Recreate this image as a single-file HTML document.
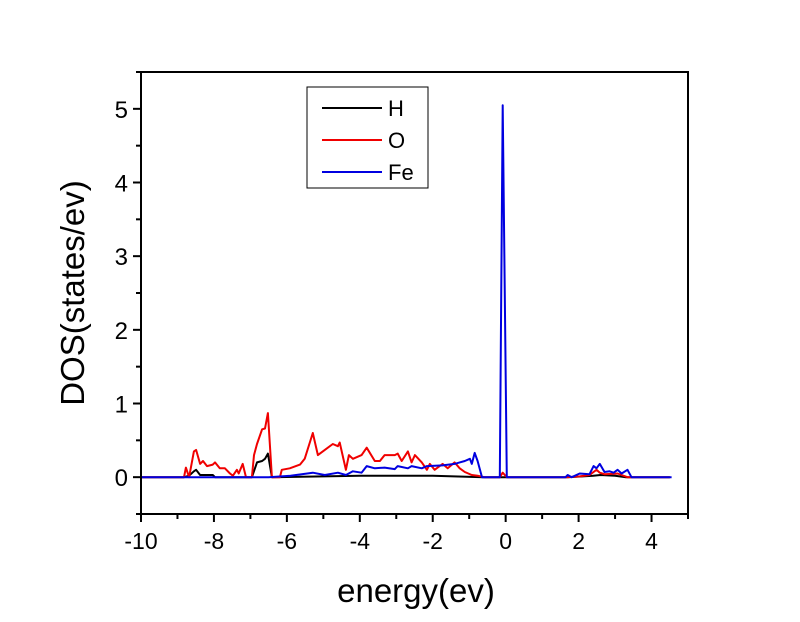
<!DOCTYPE html>
<html><head><meta charset="utf-8"><style>
body{margin:0;background:#fff;}
svg text{font-family:"Liberation Sans",Arial,sans-serif;fill:#000;}
</style></head><body>
<svg id="chart" width="800" height="617" xmlns="http://www.w3.org/2000/svg">
<rect width="800" height="617" fill="#fff"/>
<g id="plot"></g>
<g id="axes"></g>
<g>
<rect x="307" y="87" width="121" height="101" fill="#fff" stroke="#000" stroke-width="1"/>
<line x1="322" y1="108" x2="382" y2="108" stroke="#000" stroke-width="2"/>
<text x="388" y="116" font-size="22">H</text>
<line x1="322" y1="140" x2="382" y2="140" stroke="#f00000" stroke-width="2"/>
<text x="388" y="148" font-size="22">O</text>
<line x1="322" y1="172" x2="382" y2="172" stroke="#0000e0" stroke-width="2"/>
<text x="388" y="180" font-size="22">Fe</text>
</g>
<text x="416" y="602" font-size="33" text-anchor="middle">energy(ev)</text>
<text transform="translate(84,293) rotate(-90)" font-size="33" text-anchor="middle">DOS(states/ev)</text>
</svg>
<script>
const xTicks=[-10,-8,-6,-4,-2,0,2,4];
const yTicks=[0,1,2,3,4,5];
const hE=[-10,-8.82,-8.68,-8.55,-8.49,-8.38,-8.03,-7.97,-7.2,-6.96,-6.82,-6.68,-6.6,-6.52,-6.41,-4,-2,-0.6,1.7,2.4,2.6,3.0,3.3,4.5];
const hV=[0,0,0.02,0.08,0.1,0.03,0.03,0,0,0,0.2,0.22,0.25,0.32,0,0.02,0.02,0,0,0.02,0.03,0.02,0,0];
const oE=[-10,-8.82,-8.77,-8.68,-8.55,-8.49,-8.38,-8.30,-8.19,-8.03,-7.97,-7.84,-7.70,-7.56,-7.48,-7.37,-7.32,-7.21,-7.12,-6.96,-6.90,-6.82,-6.68,-6.60,-6.52,-6.41,-6.19,-6.14,-5.92,-5.64,-5.51,-5.29,-5.15,-4.96,-4.74,-4.60,-4.55,-4.38,-4.30,-4.19,-3.95,-3.81,-3.59,-3.45,-3.32,-3.04,-2.96,-2.85,-2.68,-2.58,-2.49,-2.30,-2.16,-2.08,-1.95,-1.73,-1.59,-1.40,-1.26,-1.12,-0.93,-0.77,-0.58,-0.16,-0.08,0.03,1.64,2.03,2.30,2.49,2.58,2.71,3.07,3.18,3.34,4.5];
const oV=[0,0,0.13,0,0.35,0.37,0.18,0.22,0.15,0.17,0.2,0.12,0.12,0.05,0.02,0.1,0.05,0.18,0,0,0.3,0.45,0.65,0.66,0.87,0,0,0.1,0.12,0.17,0.25,0.6,0.3,0.37,0.45,0.42,0.47,0.1,0.3,0.25,0.3,0.4,0.22,0.22,0.3,0.3,0.32,0.22,0.35,0.2,0.3,0.2,0.1,0.18,0.1,0.18,0.12,0.2,0.12,0.07,0.03,0.02,0,0,0.06,0,0,0.01,0.03,0.1,0.06,0.04,0.05,0.03,0,0];
const feE=[-10,-6.5,-5.9,-5.29,-4.96,-4.60,-4.38,-4.19,-3.95,-3.81,-3.59,-3.32,-3.04,-2.96,-2.68,-2.58,-2.30,-2.16,-1.73,-1.40,-1.26,-1.12,-0.98,-0.93,-0.85,-0.77,-0.65,-0.58,-0.16,-0.08,0.03,1.64,1.70,1.81,2.03,2.30,2.41,2.49,2.58,2.71,2.85,2.96,3.07,3.18,3.34,3.45,4.55];
const feV=[0,0,0.02,0.06,0.03,0.06,0.03,0.08,0.06,0.15,0.12,0.13,0.11,0.15,0.12,0.15,0.12,0.15,0.16,0.18,0.2,0.22,0.25,0.18,0.33,0.22,0,0,0,5.05,0,0,0.03,0,0.05,0.04,0.15,0.12,0.18,0.07,0.08,0.06,0.1,0.05,0.1,0,0];
const X0=141,X1=688,Y0=72,Y1=514;
const xMin=-10,xMax=5,yMin=-0.5,yMax=5.5;
const sx=v=>X0+(v-xMin)/(xMax-xMin)*(X1-X0);
const sy=v=>Y1-(v-yMin)/(yMax-yMin)*(Y1-Y0);
const NS='http://www.w3.org/2000/svg';
const plot=document.getElementById('plot'),axes=document.getElementById('axes');
function mk(tag,attrs,parent){const e=document.createElementNS(NS,tag);for(const k in attrs)e.setAttribute(k,attrs[k]);parent.appendChild(e);return e;}
function series(E,V,color,name){
 const d=E.map((e,i)=>(i?'L':'M')+sx(e).toFixed(1)+','+sy(V[i]).toFixed(1)).join('');
 const p=mk('path',{d:d,fill:'none',stroke:color,'stroke-width':2,'stroke-linejoin':'round'},plot);
 
 
}
series(hE,hV,'#000','series-h');
series(oE,oV,'#f00000','series-o');
series(feE,feV,'#0000e0','series-fe');
const fr=mk('rect',{x:X0,y:Y0,width:X1-X0,height:Y1-Y0,fill:'none',stroke:'#000','stroke-width':2},axes);


for(let v=-10;v<=5;v++){
 const x=sx(v),major=v%2===0;
 mk('line',{x1:x,y1:Y1,x2:x,y2:Y1+(major?8:5),stroke:'#000','stroke-width':2},axes);
}
xTicks.forEach(v=>{
 const t=mk('text',{x:sx(v),y:549,'font-size':23,'text-anchor':'middle'},axes);
 t.textContent=v;
 
 
});
for(let v=-0.5;v<=5.5;v+=0.5){
 const y=sy(v),major=Math.abs(v-Math.round(v))<1e-6;
 mk('line',{x1:X0,y1:y,x2:X0-(major?8:5),y2:y,stroke:'#000','stroke-width':2},axes);
}
yTicks.forEach(v=>{
 const t=mk('text',{x:128,y:sy(v)+9,'font-size':24,'text-anchor':'end'},axes);
 t.textContent=v;
 
 
});
</script>
</body></html>
